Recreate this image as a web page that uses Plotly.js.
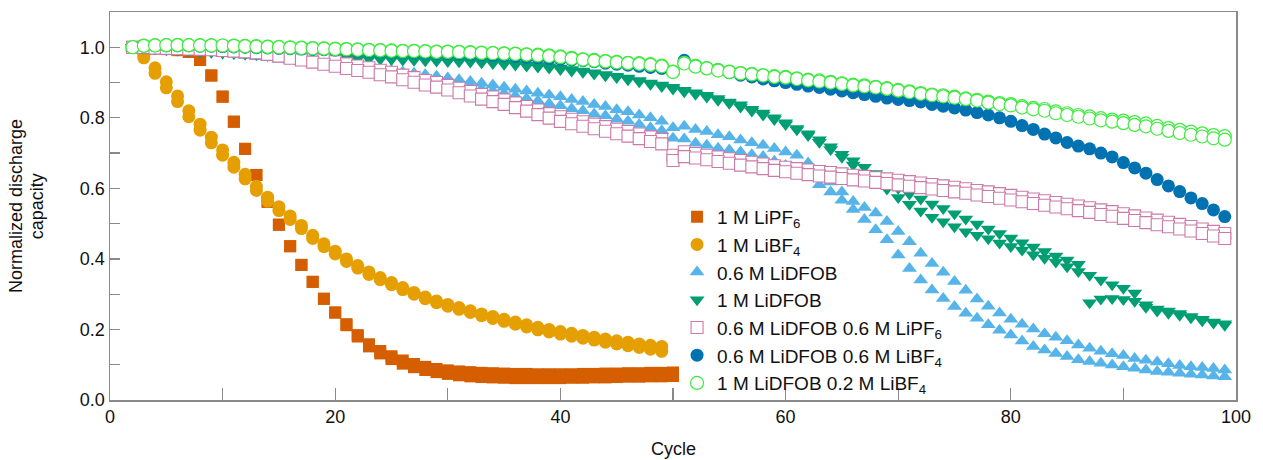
<!DOCTYPE html>
<html>
<head>
<meta charset="utf-8">
<script src="https://cdn.plot.ly/plotly-3.0.1.min.js"></script>
<style>html,body{margin:0;padding:0;background:#fff;}#chart{width:1263px;height:460px;}</style>
</head>
<body>
<div id="chart"></div>
<script>
// ---- data ----
const cycles = [2,3,4,5,6,7,8,9,10,11,
  12,13,14,15,16,17,18,19,20,21,
  22,23,24,25,26,27,28,29,30,31,
  32,33,34,35,36,37,38,39,40,41,
  42,43,44,45,46,47,48,49,50,51,
  52,53,54,55,56,57,58,59,60,61,
  62,63,64,65,66,67,68,69,70,71,
  72,73,74,75,76,77,78,79,80,81,
  82,83,84,85,86,87,88,89,90,91,
  92,93,94,95,96,97,98,99];

const seriesNames = ['1 M LiPF<sub>6</sub>','1 M LiBF<sub>4</sub>','0.6 M LiDFOB','1 M LiDFOB',
  '0.6 M LiDFOB 0.6 M LiPF<sub>6</sub>','0.6 M LiDFOB 0.6 M LiBF<sub>4</sub>','1 M LiDFOB 0.2 M LiBF<sub>4</sub>'];

// 1 M LiPF6 (cycles 2-50), two cells
const lipf6A = [1.0,0.998,0.997,0.995,0.992,0.987,0.964,0.92,0.86,0.789,
  0.712,0.638,0.562,0.497,0.436,0.383,0.335,0.287,0.248,0.215,
  0.184,0.158,0.139,0.124,0.112,0.102,0.094,0.088,0.084,0.081,
  0.079,0.077,0.076,0.075,0.074,0.074,0.073,0.073,0.073,0.073,
  0.074,0.074,0.075,0.075,0.076,0.076,0.077,0.077,0.078];
const lipf6B = [1.0,0.998,0.997,0.995,0.992,0.987,0.964,0.92,0.86,0.789,
  0.712,0.638,0.562,0.497,0.436,0.383,0.335,0.287,0.248,0.212,
  0.18,0.152,0.132,0.116,0.103,0.093,0.085,0.079,0.074,0.07,
  0.067,0.065,0.064,0.063,0.062,0.062,0.062,0.062,0.062,0.063,
  0.063,0.064,0.064,0.065,0.066,0.066,0.067,0.067,0.068];

// 1 M LiBF4 (cycles 2-49), two cells
const libf4A = [1.0,0.978,0.942,0.902,0.862,0.82,0.782,0.745,0.709,0.674,
  0.64,0.606,0.575,0.548,0.522,0.495,0.467,0.443,0.422,0.4,
  0.381,0.363,0.347,0.333,0.319,0.305,0.292,0.281,0.271,0.262,
  0.253,0.244,0.237,0.229,0.221,0.213,0.206,0.2,0.194,0.189,
  0.183,0.178,0.173,0.168,0.164,0.159,0.155,0.152];
const libf4B = [1.0,0.97,0.926,0.885,0.846,0.803,0.765,0.729,0.694,0.66,
  0.627,0.594,0.564,0.537,0.512,0.486,0.458,0.435,0.414,0.393,
  0.374,0.356,0.341,0.327,0.313,0.3,0.287,0.276,0.266,0.257,
  0.248,0.239,0.231,0.223,0.215,0.207,0.199,0.193,0.187,0.181,
  0.175,0.17,0.164,0.159,0.154,0.149,0.144,0.138];

// 0.6 M LiDFOB (cycles 2-99), two cells
const dfob06A = [1.0,0.999,0.998,0.997,0.995,0.993,0.991,0.989,0.986,0.983,
  0.98,0.977,0.974,0.971,0.968,0.965,0.962,0.958,0.954,0.95,
  0.946,0.942,0.938,0.934,0.93,0.926,0.922,0.918,0.913,0.908,
  0.903,0.898,0.893,0.887,0.881,0.876,0.87,0.865,0.86,0.852,
  0.846,0.838,0.832,0.823,0.817,0.808,0.8,0.79,0.772,0.776,
  0.767,0.761,0.752,0.746,0.737,0.729,0.722,0.713,0.703,0.694,
  0.672,0.648,0.618,0.59,0.563,0.546,0.53,0.506,0.478,0.449,
  0.416,0.387,0.362,0.336,0.311,0.286,0.266,0.247,0.229,0.215,
  0.201,0.188,0.178,0.168,0.156,0.147,0.138,0.131,0.126,0.118,
  0.113,0.108,0.103,0.098,0.094,0.092,0.089,0.085];
const dfob06B = [1.0,0.999,0.997,0.995,0.993,0.991,0.988,0.986,0.983,0.98,
  0.977,0.973,0.97,0.966,0.963,0.959,0.955,0.951,0.947,0.943,
  0.939,0.934,0.93,0.925,0.92,0.915,0.91,0.905,0.9,0.894,
  0.888,0.882,0.876,0.869,0.862,0.855,0.848,0.84,0.834,0.826,
  0.82,0.811,0.806,0.797,0.79,0.781,0.772,0.763,0.742,0.74,
  0.728,0.722,0.714,0.709,0.703,0.695,0.69,0.677,0.665,0.65,
  0.633,0.61,0.59,0.566,0.54,0.512,0.483,0.454,0.411,0.373,
  0.34,0.312,0.288,0.265,0.246,0.232,0.213,0.198,0.184,0.167,
  0.152,0.142,0.132,0.123,0.114,0.109,0.104,0.099,0.094,0.09,
  0.085,0.081,0.079,0.076,0.073,0.071,0.068,0.066];

// 1 M LiDFOB (cycles 2-99), two cells
const dfob1A = [1.0,0.998,0.996,0.994,0.992,0.99,0.988,0.987,0.985,0.984,
  0.982,0.981,0.979,0.978,0.977,0.975,0.974,0.973,0.972,0.971,
  0.97,0.97,0.969,0.968,0.967,0.966,0.966,0.965,0.964,0.963,
  0.962,0.96,0.958,0.955,0.953,0.95,0.948,0.945,0.941,0.937,
  0.933,0.928,0.923,0.918,0.913,0.906,0.899,0.893,0.887,0.878,
  0.871,0.864,0.855,0.845,0.837,0.824,0.814,0.8,0.786,0.77,
  0.755,0.738,0.718,0.697,0.678,0.66,0.642,0.62,0.6,0.584,
  0.57,0.556,0.543,0.528,0.513,0.499,0.485,0.472,0.459,0.446,
  0.434,0.421,0.408,0.397,0.385,0.276,0.286,0.288,0.285,0.28,
  0.263,0.252,0.246,0.24,0.233,0.225,0.218,0.212];
const dfob1B = [1.0,0.998,0.996,0.994,0.992,0.99,0.988,0.986,0.984,0.982,
  0.98,0.979,0.977,0.976,0.975,0.973,0.972,0.971,0.97,0.969,
  0.968,0.967,0.966,0.965,0.964,0.963,0.962,0.961,0.96,0.959,
  0.958,0.956,0.954,0.952,0.95,0.947,0.944,0.941,0.937,0.933,
  0.929,0.924,0.919,0.914,0.908,0.902,0.895,0.889,0.882,0.874,
  0.867,0.859,0.85,0.841,0.831,0.819,0.808,0.795,0.781,0.766,
  0.75,0.731,0.71,0.688,0.666,0.643,0.62,0.598,0.574,0.555,
  0.536,0.518,0.505,0.491,0.477,0.467,0.457,0.445,0.435,0.425,
  0.412,0.402,0.391,0.378,0.364,0.354,0.34,0.327,0.317,0.303,
  0.27,0.258,0.252,0.245,0.237,0.229,0.221,0.216];

// 0.6 M LiDFOB 0.6 M LiPF6 (cycles 2-99), two cells
const mixPF6A = [1.0,1.0,0.999,0.999,0.998,0.997,0.996,0.995,0.994,0.993,
  0.992,0.99,0.988,0.986,0.981,0.976,0.971,0.965,0.959,0.953,
  0.947,0.942,0.935,0.929,0.921,0.914,0.906,0.9,0.892,0.884,
  0.875,0.866,0.859,0.851,0.842,0.832,0.822,0.812,0.803,0.796,
  0.789,0.782,0.775,0.768,0.761,0.754,0.746,0.739,0.694,0.704,
  0.699,0.694,0.689,0.684,0.679,0.674,0.669,0.664,0.66,0.656,
  0.652,0.648,0.645,0.641,0.637,0.634,0.63,0.627,0.623,0.619,
  0.615,0.611,0.607,0.603,0.599,0.594,0.59,0.585,0.58,0.575,
  0.57,0.565,0.56,0.555,0.55,0.545,0.539,0.534,0.528,0.522,
  0.516,0.51,0.504,0.498,0.492,0.485,0.478,0.472];
const mixPF6B = [1.0,0.999,0.998,0.997,0.996,0.995,0.994,0.993,0.991,0.989,
  0.987,0.984,0.98,0.975,0.969,0.964,0.958,0.952,0.946,0.94,
  0.934,0.929,0.922,0.916,0.908,0.901,0.893,0.887,0.879,0.871,
  0.862,0.853,0.846,0.838,0.829,0.819,0.809,0.799,0.79,0.783,
  0.776,0.769,0.762,0.755,0.748,0.741,0.733,0.726,0.679,0.69,
  0.686,0.681,0.676,0.671,0.666,0.661,0.656,0.651,0.647,0.643,
  0.639,0.635,0.632,0.628,0.624,0.621,0.617,0.614,0.61,0.606,
  0.602,0.598,0.594,0.59,0.586,0.581,0.577,0.572,0.567,0.562,
  0.557,0.552,0.547,0.542,0.537,0.532,0.526,0.521,0.515,0.509,
  0.503,0.497,0.491,0.485,0.479,0.472,0.465,0.458];

// 0.6 M LiDFOB 0.6 M LiBF4 (cycles 2-99)
const mixBF4 = [1.0,1.003,1.004,1.004,1.004,1.004,1.003,1.003,1.002,1.001,
  1.0,0.999,0.998,0.997,0.996,0.995,0.994,0.993,0.992,0.991,
  0.99,0.989,0.988,0.987,0.986,0.985,0.984,0.983,0.982,0.981,
  0.98,0.979,0.977,0.976,0.974,0.972,0.97,0.968,0.966,0.964,
  0.962,0.959,0.955,0.952,0.949,0.946,0.943,0.94,0.93,0.963,
  0.948,0.94,0.934,0.928,0.921,0.916,0.91,0.905,0.9,0.895,
  0.89,0.886,0.881,0.876,0.871,0.866,0.861,0.856,0.852,0.849,
  0.845,0.838,0.833,0.828,0.822,0.815,0.808,0.8,0.79,0.778,
  0.767,0.754,0.743,0.73,0.72,0.712,0.7,0.689,0.673,0.658,
  0.643,0.625,0.607,0.591,0.573,0.557,0.539,0.52];

// 1 M LiDFOB 0.2 M LiBF4 (cycles 2-99), two cells
const mix02A = [1.0,1.005,1.006,1.006,1.007,1.006,1.006,1.006,1.005,1.005,
  1.004,1.003,1.002,1.001,1.0,0.999,0.998,0.997,0.996,0.995,
  0.994,0.993,0.992,0.991,0.99,0.99,0.989,0.988,0.988,0.987,
  0.986,0.985,0.984,0.983,0.982,0.98,0.979,0.977,0.974,0.97,
  0.966,0.964,0.961,0.959,0.956,0.955,0.952,0.948,0.931,0.956,
  0.947,0.941,0.936,0.931,0.927,0.925,0.921,0.918,0.916,0.912,
  0.908,0.906,0.902,0.898,0.894,0.892,0.888,0.884,0.879,0.875,
  0.87,0.866,0.864,0.86,0.855,0.851,0.846,0.842,0.839,0.833,
  0.828,0.825,0.818,0.813,0.808,0.804,0.799,0.795,0.792,0.788,
  0.784,0.777,0.771,0.766,0.761,0.756,0.751,0.748];
const mix02B = [1.0,1.004,1.005,1.006,1.006,1.006,1.005,1.005,1.005,1.004,
  1.003,1.002,1.001,1.0,0.999,0.998,0.997,0.996,0.995,0.994,
  0.993,0.992,0.991,0.99,0.989,0.989,0.988,0.987,0.987,0.986,
  0.985,0.984,0.983,0.982,0.981,0.979,0.977,0.975,0.972,0.968,
  0.965,0.962,0.96,0.957,0.955,0.953,0.95,0.946,0.93,0.954,
  0.945,0.94,0.934,0.93,0.926,0.923,0.92,0.916,0.914,0.91,
  0.906,0.903,0.9,0.896,0.892,0.889,0.886,0.882,0.877,0.873,
  0.868,0.864,0.861,0.857,0.853,0.849,0.843,0.839,0.835,0.829,
  0.824,0.82,0.813,0.808,0.803,0.798,0.793,0.789,0.785,0.78,
  0.776,0.769,0.763,0.757,0.752,0.747,0.742,0.738];

// ---- styles ----
const FONT = 'Liberation Sans, Arial, Helvetica, sans-serif';
const FS = 19;
const styles = [
  {symbol:'square', size:12, color:'#D55E00', line:{width:0}},
  {symbol:'circle', size:13, color:'#E69F00', line:{width:0}},
  {symbol:'triangle-up', size:13, color:'#56B4E9', line:{width:0}},
  {symbol:'triangle-down', size:13, color:'#009E73', line:{width:0}},
  {symbol:'square', size:12, color:'#FFFFFF', line:{width:1.1, color:'#CC79A7'}},
  {symbol:'circle', size:13, color:'#0072B2', line:{width:0}},
  {symbol:'circle', size:13, color:'#FFFFFF', line:{width:1.2, color:'#3DEB3D'}}
];

const groups = [
  [cycles.slice(0, lipf6A.length), [lipf6A, lipf6B]],
  [cycles.slice(0, libf4A.length), [libf4A, libf4B]],
  [cycles, [dfob06A, dfob06B]],
  [cycles, [dfob1A, dfob1B]],
  [cycles, [mixPF6A, mixPF6B]],
  [cycles, [mixBF4]],
  [cycles, [mix02A, mix02B]]
];

const traces = [];
groups.forEach((g, i) => {
  g[1].forEach((ys, k) => {
    traces.push({
      type:'scatter', mode:'markers', x:g[0], y:ys,
      name: seriesNames[i], showlegend: k === 0, legendgroup:'g'+i,
      marker: styles[i], cliponaxis:true, hoverinfo:'skip'
    });
  });
});

const axisCommon = {
  showline:true, linecolor:'#8a8a8a', linewidth:1.5, mirror:true,
  showgrid:false, zeroline:false, ticks:'inside', tickcolor:'#8a8a8a', tickwidth:1.3,
  tickfont:{family:FONT, size:18, color:'#111'}
};

const layout = {
  width:1263, height:460,
  margin:{l:110, r:27, t:12, b:60, pad:0},
  paper_bgcolor:'#fff', plot_bgcolor:'#fff',
  font:{family:FONT, size:18, color:'#111'},
  xaxis: Object.assign({}, axisCommon, {
    range:[0,100], tick0:0, dtick:20, ticklen:12,
    minor:{dtick:10, ticks:'inside', ticklen:12, tickcolor:'#8a8a8a', tickwidth:1.3, showgrid:false}
  }),
  yaxis: Object.assign({}, axisCommon, {
    range:[0,1.1], tick0:0, dtick:0.2, tickformat:'.1f', ticklen:10,
    minor:{dtick:0.1, ticks:'inside', ticklen:10, tickcolor:'#8a8a8a', tickwidth:1.3, showgrid:false}
  }),
  showlegend:true,
  legend:{x:0.5036, y:0.521, xanchor:'left', yanchor:'top', bgcolor:'rgba(0,0,0,0)',
    borderwidth:0, font:{family:FONT, size:FS, color:'#111'}, traceorder:'normal', itemsizing:'trace'},
  annotations:[
    {text:'Normalized discharge', xref:'paper', yref:'paper', x:-0.0835, y:0.5, textangle:-90,
      xanchor:'center', yanchor:'middle', showarrow:false, font:{family:FONT, size:18, color:'#111'}},
    {text:'capacity', xref:'paper', yref:'paper', x:-0.0645, y:0.5, textangle:-90,
      xanchor:'center', yanchor:'middle', showarrow:false, font:{family:FONT, size:18, color:'#111'}},
    {text:'Cycle', xref:'paper', yref:'paper', x:0.5, y:-0.1263, xanchor:'center', yanchor:'middle',
      showarrow:false, font:{family:FONT, size:18, color:'#111'}}
  ]
};

Plotly.newPlot('chart', traces, layout, {staticPlot:true, displayModeBar:false});
</script>
</body>
</html>
